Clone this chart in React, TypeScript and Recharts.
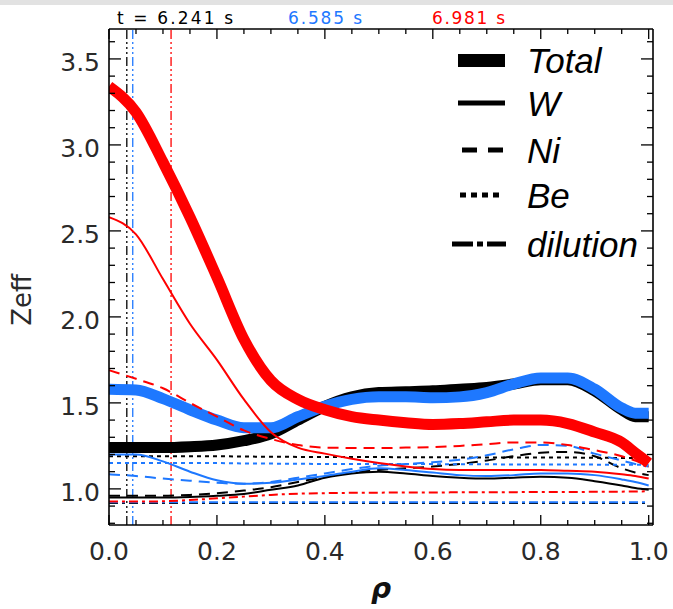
import React from 'react';
import { LineChart, Line, XAxis, YAxis, ReferenceLine } from 'recharts';

// ---- data ----
const RHO = [0, 0.05, 0.1, 0.15, 0.2, 0.25, 0.3, 0.35, 0.4, 0.45, 0.5, 0.55, 0.6, 0.65, 0.7, 0.75, 0.8, 0.85, 0.9, 0.95, 0.975, 1.0];

const BLACK_TOTAL = [1.24, 1.24, 1.24, 1.245, 1.255, 1.28, 1.32, 1.40, 1.48, 1.535, 1.56, 1.565, 1.57, 1.58, 1.59, 1.61, 1.635, 1.635, 1.57, 1.46, 1.42, 1.42];
const BLACK_W = [0.95, 0.95, 0.95, 0.953, 0.96, 0.97, 0.995, 1.02, 1.065, 1.09, 1.10, 1.09, 1.075, 1.065, 1.06, 1.065, 1.07, 1.065, 1.045, 1.02, 1.005, 0.995];
const BLACK_NI = [0.96, 0.96, 0.96, 0.965, 0.975, 0.99, 1.01, 1.04, 1.07, 1.095, 1.11, 1.12, 1.13, 1.145, 1.165, 1.19, 1.21, 1.215, 1.19, 1.12, 1.095, 1.08];
const BLACK_BE = [1.19, 1.19, 1.19, 1.19, 1.19, 1.188, 1.187, 1.186, 1.185, 1.185, 1.185, 1.184, 1.184, 1.183, 1.183, 1.182, 1.182, 1.182, 1.181, 1.18, 1.18, 1.18];
const BLACK_DIL = [0.918, 0.918, 0.918, 0.918, 0.918, 0.918, 0.918, 0.918, 0.918, 0.918, 0.918, 0.918, 0.918, 0.918, 0.918, 0.918, 0.918, 0.918, 0.918, 0.918, 0.918, 0.918];

const BLUE_TOTAL = [1.58, 1.575, 1.525, 1.46, 1.40, 1.355, 1.355, 1.42, 1.48, 1.52, 1.535, 1.535, 1.53, 1.535, 1.56, 1.61, 1.645, 1.645, 1.58, 1.47, 1.44, 1.44];
const BLUE_W = [1.20, 1.20, 1.16, 1.10, 1.05, 1.03, 1.035, 1.055, 1.075, 1.10, 1.12, 1.11, 1.095, 1.08, 1.075, 1.08, 1.09, 1.09, 1.08, 1.055, 1.04, 1.02];
const BLUE_NI = [1.085, 1.075, 1.06, 1.048, 1.035, 1.03, 1.04, 1.065, 1.09, 1.115, 1.135, 1.145, 1.155, 1.17, 1.195, 1.23, 1.255, 1.25, 1.205, 1.165, 1.145, 1.13];
const BLUE_BE = [1.15, 1.15, 1.15, 1.15, 1.15, 1.148, 1.147, 1.146, 1.145, 1.145, 1.145, 1.144, 1.144, 1.143, 1.143, 1.142, 1.142, 1.142, 1.141, 1.14, 1.14, 1.14];
const BLUE_DIL = [0.922, 0.922, 0.922, 0.922, 0.922, 0.922, 0.922, 0.922, 0.922, 0.922, 0.922, 0.922, 0.922, 0.922, 0.922, 0.922, 0.922, 0.922, 0.922, 0.922, 0.922, 0.922];

const RED_TOTAL = [3.34, 3.19, 2.90, 2.58, 2.23, 1.87, 1.63, 1.52, 1.46, 1.42, 1.40, 1.385, 1.375, 1.38, 1.39, 1.40, 1.40, 1.38, 1.33, 1.27, 1.21, 1.15];
const RED_W = [2.58, 2.48, 2.22, 1.96, 1.75, 1.52, 1.33, 1.24, 1.205, 1.175, 1.15, 1.13, 1.115, 1.11, 1.11, 1.11, 1.11, 1.105, 1.10, 1.085, 1.075, 1.06];
const RED_NI = [1.69, 1.64, 1.585, 1.50, 1.42, 1.34, 1.29, 1.255, 1.24, 1.238, 1.237, 1.24, 1.243, 1.25, 1.26, 1.27, 1.27, 1.255, 1.225, 1.19, 1.165, 1.13];
const RED_DIL = [0.926, 0.926, 0.928, 0.935, 0.945, 0.955, 0.965, 0.972, 0.975, 0.977, 0.978, 0.979, 0.979, 0.98, 0.98, 0.981, 0.982, 0.982, 0.983, 0.984, 0.985, 0.986];

const TIME_LABELS = ['t = 6.241 s', '6.585 s', '6.981 s'];
const SAWTOOTH_RHO = [0.033, 0.044, 0.115];
const LEGEND_LABELS = ['Total', 'W', 'Ni', 'Be', 'dilution'];

const X_TICKS = [0, 0.05, 0.1, 0.15, 0.2, 0.25, 0.3, 0.35, 0.4, 0.45, 0.5, 0.55, 0.6, 0.65, 0.7, 0.75, 0.8, 0.85, 0.9, 0.95, 1.0];
const X_MAJOR = [0, 0.2, 0.4, 0.6, 0.8, 1.0];
const Y_TICKS = [0.8, 0.9, 1.0, 1.1, 1.2, 1.3, 1.4, 1.5, 1.6, 1.7, 1.8, 1.9, 2.0, 2.1, 2.2, 2.3, 2.4, 2.5, 2.6, 2.7, 2.8, 2.9, 3.0, 3.1, 3.2, 3.3, 3.4, 3.5, 3.6];
const Y_MAJOR = [1.0, 1.5, 2.0, 2.5, 3.0, 3.5];

const X_DOMAIN = [0, 1.008];
const Y_DOMAIN = [0.79, 3.674];

const BLACK = '#000000';
const BLUE = '#1e78ff';
const RED = '#ff0000';

const data = RHO.map((r, i) => ({
  rho: r,
  bT: BLACK_TOTAL[i], bW: BLACK_W[i], bN: BLACK_NI[i], bB: BLACK_BE[i], bD: BLACK_DIL[i],
  uT: BLUE_TOTAL[i], uW: BLUE_W[i], uN: BLUE_NI[i], uB: BLUE_BE[i], uD: BLUE_DIL[i],
  rT: RED_TOTAL[i], rW: RED_W[i], rN: RED_NI[i], rD: RED_DIL[i],
}));

const near = (v: number, list: number[]) => list.some((m) => Math.abs(m - v) < 1e-6);
const TICK_FONT = '"DejaVu Sans", sans-serif';

const BottomTick = (p: any) => {
  const { x, y, payload } = p;
  const major = near(payload.value, X_MAJOR);
  return (
    <g>
      <line x1={x} x2={x} y1={y} y2={y - (major ? 10 : 5)} stroke="#000" strokeWidth={1.3} />
      {major && (
        <text x={x} y={y + 35} textAnchor="middle" fontFamily={TICK_FONT} fontSize={25} fill="#2a2a2a">
          {payload.value.toFixed(1)}
        </text>
      )}
    </g>
  );
};
const TopTick = (p: any) => {
  const { x, y, payload } = p;
  const major = near(payload.value, X_MAJOR);
  return <line x1={x} x2={x} y1={y} y2={y + (major ? 10 : 5)} stroke="#000" strokeWidth={1.3} />;
};
const LeftTick = (p: any) => {
  const { x, y, payload } = p;
  const major = near(payload.value, Y_MAJOR);
  return (
    <g>
      <line x1={x} x2={x + (major ? 12 : 6)} y1={y} y2={y} stroke="#000" strokeWidth={1.3} />
      {major && (
        <text x={x - 9} y={y + 12} textAnchor="end" fontFamily={TICK_FONT} fontSize={25} fill="#2a2a2a">
          {payload.value.toFixed(1)}
        </text>
      )}
    </g>
  );
};
const RightTick = (p: any) => {
  const { x, y, payload } = p;
  const major = near(payload.value, Y_MAJOR);
  return <line x1={x} x2={x - (major ? 12 : 6)} y1={y} y2={y} stroke="#000" strokeWidth={1.3} />;
};

const NI_DASH = '11 7';
const BE_DASH = '4 4';
const DIL_DASH = '9 4 3 4';
const VERT_DASH = '9 3 2 3 2 3 2 3';

function series(prefix: string, color: string, hasBe: boolean) {
  const out: any[] = [];
  out.push(<Line key={prefix + 'T'} dataKey={prefix + 'T'} type="monotone" stroke={color} strokeWidth={11} dot={false} isAnimationActive={false} />);
  out.push(<Line key={prefix + 'D'} dataKey={prefix + 'D'} type="monotone" stroke={color} strokeWidth={2} strokeDasharray={DIL_DASH} dot={false} isAnimationActive={false} />);
  if (hasBe) out.push(<Line key={prefix + 'B'} dataKey={prefix + 'B'} type="monotone" stroke={color} strokeWidth={2} strokeDasharray={BE_DASH} dot={false} isAnimationActive={false} />);
  out.push(<Line key={prefix + 'N'} dataKey={prefix + 'N'} type="monotone" stroke={color} strokeWidth={2} strokeDasharray={NI_DASH} dot={false} isAnimationActive={false} />);
  out.push(<Line key={prefix + 'W'} dataKey={prefix + 'W'} type="monotone" stroke={color} strokeWidth={2} dot={false} isAnimationActive={false} />);
  return out;
}

export default function App() {
  const legendRows = [
    { y: 60, sample: <rect x={458} y={54} width={47} height={13} fill="#000" /> },
    { y: 103, sample: <line x1={458} x2={505} y1={103} y2={103} stroke="#000" strokeWidth={5} /> },
    { y: 150, sample: <line x1={462} x2={504} y1={150} y2={150} stroke="#000" strokeWidth={5} strokeDasharray="15 11" /> },
    { y: 195, sample: <line x1={460} x2={503} y1={195} y2={195} stroke="#000" strokeWidth={5} strokeDasharray="6 5" /> },
    { y: 244, sample: <line x1={452} x2={506} y1={244} y2={244} stroke="#000" strokeWidth={5} strokeDasharray="21 4 6 4" /> },
  ];
  return (
    <div style={{ position: 'absolute', left: 0, top: 0, width: 673, height: 609, background: '#fff', overflow: 'hidden' }}>
      <div style={{ position: 'absolute', left: 0, top: 0, width: 673, height: 5, background: '#e2e2e2' }} />
      <LineChart width={673} height={609} data={data} margin={{ top: 28, right: 19, bottom: 0, left: 0 }}>
        <XAxis xAxisId={0} dataKey="rho" type="number" domain={X_DOMAIN} ticks={X_TICKS} interval={0}
          tickSize={0} tickMargin={0} tick={BottomTick} height={84} axisLine={{ stroke: '#000', strokeWidth: 1.6 }} tickLine={false} allowDataOverflow />
        <XAxis xAxisId="top" orientation="top" dataKey="rho" type="number" domain={X_DOMAIN} ticks={X_TICKS} interval={0}
          tickSize={0} tickMargin={0} tick={TopTick} height={1} axisLine={{ stroke: '#000', strokeWidth: 1.6 }} tickLine={false} allowDataOverflow />
        <YAxis yAxisId={0} type="number" domain={Y_DOMAIN} ticks={Y_TICKS} interval={0}
          tickSize={0} tickMargin={0} tick={LeftTick} width={109} axisLine={{ stroke: '#000', strokeWidth: 1.6 }} tickLine={false} allowDataOverflow />
        <YAxis yAxisId="right" orientation="right" type="number" domain={Y_DOMAIN} ticks={Y_TICKS} interval={0}
          tickSize={0} tickMargin={0} tick={RightTick} width={1} axisLine={{ stroke: '#000', strokeWidth: 1.6 }} tickLine={false} allowDataOverflow />
        <ReferenceLine x={SAWTOOTH_RHO[0]} stroke={BLACK} strokeWidth={1.3} strokeDasharray={VERT_DASH} />
        <ReferenceLine x={SAWTOOTH_RHO[1]} stroke={BLUE} strokeWidth={1.3} strokeDasharray={VERT_DASH} />
        <ReferenceLine x={SAWTOOTH_RHO[2]} stroke={RED} strokeWidth={1.3} strokeDasharray={VERT_DASH} />
        {series('b', BLACK, true)}
        {series('u', BLUE, true)}
        {series('r', RED, false)}
      </LineChart>
      <svg width={673} height={609} style={{ position: 'absolute', left: 0, top: 0, pointerEvents: 'none' }}>
        <text x={117} y={24} fontFamily={TICK_FONT} fontSize={17} fill={BLACK} textLength={116} lengthAdjust="spacing">{TIME_LABELS[0]}</text>
        <text x={288} y={24} fontFamily={TICK_FONT} fontSize={17} fill={BLUE} textLength={74} lengthAdjust="spacing">{TIME_LABELS[1]}</text>
        <text x={432} y={24} fontFamily={TICK_FONT} fontSize={17} fill={RED} textLength={73} lengthAdjust="spacing">{TIME_LABELS[2]}</text>
        {legendRows.map((row, i) => (
          <g key={i}>
            {row.sample}
            <text x={527} y={row.y + 13} fontFamily='"Liberation Sans", Arial, sans-serif' fontStyle="italic" fontSize={35} fill="#000">{LEGEND_LABELS[i]}</text>
          </g>
        ))}
        <text x={22} y={300} transform="rotate(-90 22 300)" textAnchor="middle" dominantBaseline="central" fontFamily={TICK_FONT} fontSize={26} fill="#2a2a2a">Zeff</text>
        <text x={381} y={598} textAnchor="middle" fontFamily={TICK_FONT} fontStyle="italic" fontWeight="bold" fontSize={28} fill="#111">ρ</text>
      </svg>
    </div>
  );
}
